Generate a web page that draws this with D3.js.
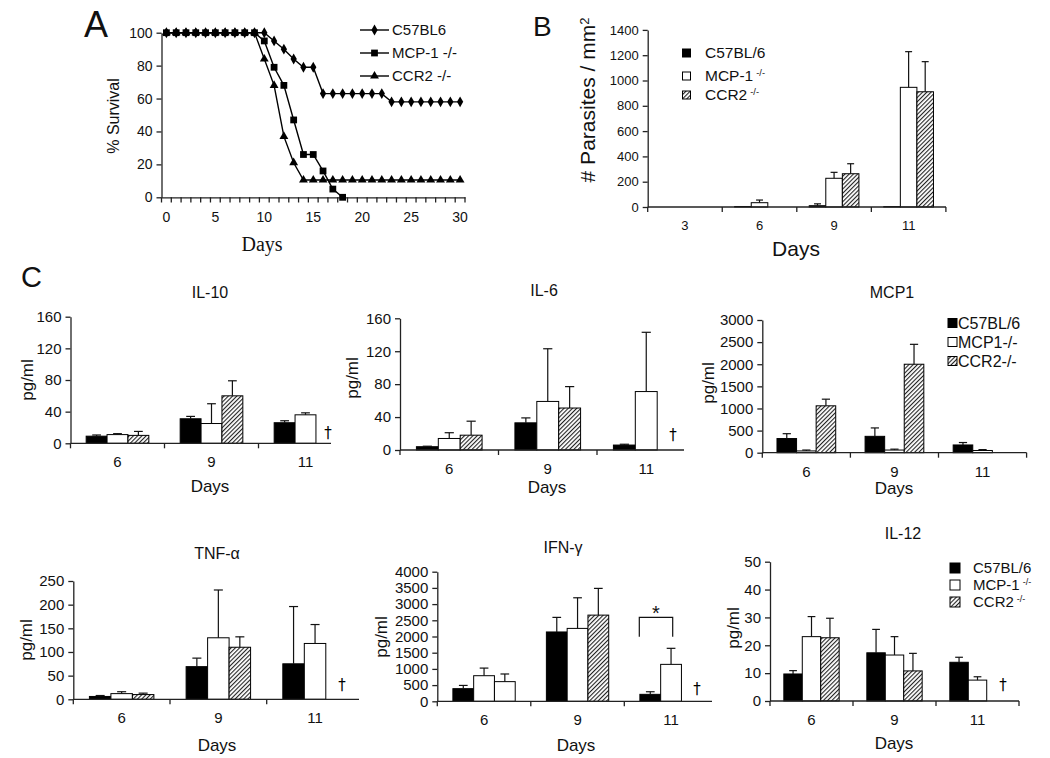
<!DOCTYPE html>
<html><head><meta charset="utf-8">
<script src="https://cdn.jsdelivr.net/npm/d3@7"></script>
<style>
body{margin:0;background:#fff}
svg{display:block}
</style>
</head><body>
<svg id="c" width="1050" height="758" font-family='"Liberation Sans",Arial,sans-serif'></svg>
<script>
// ---------------- DATA ----------------
// Panel A: survival
const survivalDays = [0,1,2,3,4,5,6,7,8,9,10,11,12,13,14,15,16,17,18,19,20,21,22,23,24,25,26,27,28,29,30];
const survivalTickLabels = [0,5,10,15,20,25,30];
const survivalTicksY = [0,20,40,60,80,100];
const survC57  = [100,100,100,100,100,100,100,100,100,100,100,95,90,84,79,79,63,63,63,63,63,63,63,58,58,58,58,58,58,58,58];
const survMCP  = [100,100,100,100,100,100,100,100,100,100,95,79,68,47,26,26,16,5,0,null,null,null,null,null,null,null,null,null,null,null,null];
const survCCR2 = [100,100,100,100,100,100,100,100,100,100,84,68,37,21,10.5,10.5,10.5,10.5,10.5,10.5,10.5,10.5,10.5,10.5,10.5,10.5,10.5,10.5,10.5,10.5,10.5];
const survNames = ["C57BL6","MCP-1 -/-","CCR2 -/-"];

// Panel B: parasites / mm2
const parasiteDays = ["3","6","9","11"];
const parasiteTicks = [0,200,400,600,800,1000,1200,1400];
const parC57   = [0, 4, 10, 3];    const parC57Sd  = [0, 0, 15, 0];
const parMCP   = [0, 34, 227, 946]; const parMCPSd  = [0, 21, 47, 282];
const parCCR2  = [0, 0, 263, 911];  const parCCR2Sd = [0, 0, 79, 238];

// Panel C: cytokines (days 6, 9, 11); null = no survivors (†)
const cytoDays = ["6","9","11"];
const il10C57 = [9, 31, 26];     const il10C57Sd = [1.5, 3, 2.5];
const il10MCP = [11, 25, 36];    const il10MCPSd = [1.2, 25, 2.5];
const il10CCR2 = [10, 60, null]; const il10CCR2Sd = [5, 19, 0];

const il6C57 = [4, 33, 6];       const il6C57Sd = [0.6, 6, 1];
const il6MCP = [14, 59, 71];     const il6MCPSd = [7, 64, 72];
const il6CCR2 = [18, 51, null];  const il6CCR2Sd = [17, 26, 0];

const mcp1C57 = [320, 370, 175];   const mcp1C57Sd = [110, 190, 55];
const mcp1MCP = [40, 60, 50];      const mcp1MCPSd = [20, 20, 20];
const mcp1CCR2 = [1060, 2000, 0];  const mcp1CCR2Sd = [150, 450, 0];

const tnfC57 = [6, 69, 75];      const tnfC57Sd = [2, 18, 121];
const tnfMCP = [12, 130, 118];   const tnfMCPSd = [4, 101, 40];
const tnfCCR2 = [10, 110, null]; const tnfCCR2Sd = [3, 22, 0];

const ifnC57 = [390, 2140, 215];    const ifnC57Sd = [100, 450, 80];
const ifnMCP = [790, 2250, 1140];   const ifnMCPSd = [235, 945, 495];
const ifnCCR2 = [607, 2660, null];  const ifnCCR2Sd = [236, 825, 0];

const il12C57 = [9.7, 17.3, 13.9];   const il12C57Sd = [1.2, 8.4, 1.8];
const il12MCP = [23.1, 16.5, 7.5];   const il12MCPSd = [7.2, 6.6, 1.2];
const il12CCR2 = [22.7, 10.8, null]; const il12CCR2Sd = [7, 6.3, 0];

// ---------------- DRAWING ----------------
const svg = d3.select("#c");
const AX = "#222";
const SANS = '"Liberation Sans",Arial,sans-serif';
const fmt = d3.format("d");
const defs = svg.append("defs");
const pat = defs.append("pattern").attr("id","hatch").attr("patternUnits","userSpaceOnUse")
  .attr("width",3).attr("height",3).attr("patternTransform","rotate(45)");
pat.append("rect").attr("width",3).attr("height",3).attr("fill","#fff");
pat.append("line").attr("x1",0.5).attr("y1",0).attr("x2",0.5).attr("y2",3).attr("stroke","#222").attr("stroke-width",1.2);
const FILLS = ["#000","#fff","url(#hatch)"];

function txt(x,y,s,fs){
  return svg.append("text").attr("x",x).attr("y",y).attr("font-size",fs).attr("fill","#111").text(s);
}
function styleAxis(sel, fs){
  sel.selectAll("path,line").attr("stroke",AX).attr("stroke-width",1.3);
  sel.selectAll("text").attr("font-size",fs).attr("fill","#111").attr("font-family",SANS);
}

// ---- Panel A ----
txt(84,37,"A",36);
const xA = d3.scaleBand().domain(survivalDays).range([161.5,465]);
const yA = d3.scaleLinear().domain([0,100]).range([197.3,32.7]);
const cxA = d => xA(d) + xA.bandwidth()/2;
const gA = svg.append("g");
gA.append("g").attr("transform","translate(161.5,0)")
  .call(d3.axisLeft(yA).tickValues(survivalTicksY).tickFormat(fmt).tickSize(5).tickSizeOuter(0).tickPadding(4))
  .call(s=>styleAxis(s,14));
gA.append("g").attr("transform","translate(0,197.3)")
  .call(d3.axisBottom(xA).tickValues(survivalTickLabels).tickSize(0).tickPadding(14.5))
  .call(s=>styleAxis(s,14));
gA.selectAll("line.dtick").data(survivalDays.concat(["end"])).join("line").attr("class","dtick")
  .attr("x1",d=>d==="end"?465:xA(d)).attr("x2",d=>d==="end"?465:xA(d))
  .attr("y1",197.3).attr("y2",202.5).attr("stroke",AX).attr("stroke-width",1.3);
svg.append("text").attr("transform","translate(113,116) rotate(-90)").attr("text-anchor","middle")
  .attr("dy","0.35em").attr("font-size",16).attr("fill","#111").text("% Survival");
svg.append("text").attr("x",262).attr("y",251).attr("text-anchor","middle").attr("fill","#111")
  .attr("font-family",'"Liberation Serif","Times New Roman",serif').attr("font-size",20).text("Days");
const survSeries = [survC57, survMCP, survCCR2];
const symbols = [d3.symbolDiamond, d3.symbolSquare, d3.symbolTriangle];
const symSizes = [34, 46, 34];
const lineA = d3.line().defined(d=>d.v!=null).x(d=>cxA(d.day)).y(d=>yA(d.v));
survSeries.forEach((vals,si)=>{
  const pts = survivalDays.map((day,i)=>({day, v: vals[i]}));
  gA.append("path").datum(pts).attr("d",lineA).attr("fill","none").attr("stroke","#000").attr("stroke-width",1.4);
  gA.selectAll(null).data(pts.filter(p=>p.v!=null)).join("path")
    .attr("transform",p=>`translate(${cxA(p.day)},${yA(p.v)})`)
    .attr("d",d3.symbol().type(symbols[si]).size(symSizes[si])).attr("fill","#000");
});
const legAy = [30,53,76];
survNames.forEach((nm,i)=>{
  gA.append("line").attr("x1",360).attr("x2",389).attr("y1",legAy[i]).attr("y2",legAy[i]).attr("stroke","#000").attr("stroke-width",1.4);
  gA.append("path").attr("transform",`translate(374.5,${legAy[i]})`).attr("d",d3.symbol().type(symbols[i]).size(symSizes[i])).attr("fill","#000");
  gA.append("text").attr("x",392).attr("y",legAy[i]).attr("dy","0.35em").attr("font-size",15).attr("fill","#111").text(nm);
});

// ---- generic grouped bar panel ----
function barPanel(cfg){
  const g = svg.append("g");
  const n = cfg.cats.length;
  const x = d3.scaleBand().domain(cfg.cats).range([cfg.left, cfg.left + cfg.step*n]);
  const y = d3.scaleLinear().domain([0,cfg.max]).range([cfg.y0, cfg.yTop]);
  const bw = cfg.step/4.5;
  const xs = d3.scaleBand().domain([0,1,2]).range([0,bw*3]);
  const flat = [];
  cfg.series.forEach((s,si)=>s.v.forEach((v,ci)=>{ if(v!=null) flat.push({si,ci,v,sd:s.sd[ci]}); }));
  const bx = d => x(cfg.cats[d.ci]) + (cfg.step - bw*3)/2 + xs(d.si);
  g.selectAll("rect.bar").data(flat).join("rect").attr("class","bar")
    .attr("x",bx).attr("width",bw).attr("y",d=>y(d.v)).attr("height",d=>cfg.y0-y(d.v))
    .attr("fill",d=> (cfg.plain && cfg.plain.some(p=>p[0]===d.si&&p[1]===d.ci)) ? "#fff" : FILLS[d.si])
    .attr("stroke","#000").attr("stroke-width",1);
  const eb = flat.filter(d=>d.sd>0);
  const cap = bw*0.42;
  g.selectAll("line.ev").data(eb).join("line").attr("class","ev")
    .attr("x1",d=>bx(d)+bw/2).attr("x2",d=>bx(d)+bw/2).attr("y1",d=>y(d.v)).attr("y2",d=>y(d.v+d.sd))
    .attr("stroke","#111").attr("stroke-width",1.2);
  g.selectAll("line.ec").data(eb).join("line").attr("class","ec")
    .attr("x1",d=>bx(d)+bw/2-cap/2).attr("x2",d=>bx(d)+bw/2+cap/2).attr("y1",d=>y(d.v+d.sd)).attr("y2",d=>y(d.v+d.sd))
    .attr("stroke","#111").attr("stroke-width",1.2);
  // axes
  g.append("g").attr("transform",`translate(${cfg.left},0)`)
    .call(d3.axisLeft(y).tickValues(cfg.yTicks).tickFormat(fmt).tickSize(5).tickSizeOuter(0).tickPadding(cfg.ypad||4))
    .call(s=>styleAxis(s,cfg.fs));
  const xa = g.append("g").attr("transform",`translate(0,${cfg.y0})`)
    .call(d3.axisBottom(x).tickSize(0).tickPadding(cfg.xpad||13.5))
    .call(s=>styleAxis(s,cfg.fs));
  xa.select(".domain").remove();
  g.append("line").attr("x1",cfg.left).attr("x2",cfg.axisEnd).attr("y1",cfg.y0).attr("y2",cfg.y0).attr("stroke",AX).attr("stroke-width",1.3);
  const bounds = d3.range(n+1).map(i=>cfg.left+i*cfg.step).filter(b=>b<=cfg.axisEnd+1);
  g.selectAll("line.bt").data(bounds).join("line").attr("class","bt")
    .attr("x1",b=>b).attr("x2",b=>b).attr("y1",cfg.y0).attr("y2",cfg.y0+5).attr("stroke",AX).attr("stroke-width",1.3);
  if(cfg.title) g.append("text").attr("x",cfg.title[0]).attr("y",cfg.title[1]).attr("dy","0.35em").attr("text-anchor","middle").attr("font-size",16).attr("fill","#111").text(cfg.title[2]);
  if(cfg.days) g.append("text").attr("x",cfg.days[0]).attr("y",cfg.days[1]).attr("dy","0.35em").attr("text-anchor","middle").attr("font-size",cfg.daysFs||17).attr("fill","#111").text("Days");
  if(cfg.ylab) g.append("text").attr("transform",`translate(${cfg.ylab[0]},${cfg.ylab[1]}) rotate(-90)`).attr("dy","0.35em").attr("text-anchor","middle").attr("font-size",17).attr("fill","#111").text("pg/ml");
  if(cfg.dagger) g.append("text").attr("x",cfg.dagger[0]).attr("y",cfg.dagger[1]).attr("text-anchor","middle")
    .attr("font-family",'"DejaVu Sans",sans-serif').attr("font-size",15).attr("fill","#000").text("\u2020");
  return {g,x,y};
}

function legend(cfg){
  const g = svg.append("g");
  cfg.labels.forEach((lb,i)=>{
    const yy = cfg.ys[i];
    g.append("rect").attr("x",cfg.x).attr("y",yy-cfg.size/2).attr("width",cfg.size).attr("height",cfg.size)
      .attr("fill",FILLS[i]).attr("stroke","#000").attr("stroke-width",1);
    const t = g.append("text").attr("x",cfg.tx).attr("y",yy).attr("dy","0.35em").attr("font-size",cfg.fs).attr("fill","#111");
    t.append("tspan").text(lb[0]);
    if(lb[1]) t.append("tspan").attr("dy","-0.55em").attr("dx","3").attr("font-size",cfg.fs*0.6).text(lb[1]);
  });
}

// ---- Panel B ----
txt(533,36,"B",28);
barPanel({cats:parasiteDays, left:647.7, step:74.55, axisEnd:946, y0:207, yTop:29.9, max:1400,
  yTicks:parasiteTicks, fs:13, ypad:4, xpad:14,
  series:[{v:parC57,sd:parC57Sd},{v:parMCP,sd:parMCPSd},{v:parCCR2,sd:parCCR2Sd}],
  days:[796,249], daysFs:21});
const bl = svg.append("text").attr("transform","translate(588,100) rotate(-90)").attr("dy","0.35em").attr("text-anchor","middle").attr("font-size",21).attr("fill","#111");
bl.append("tspan").text("# Parasites / mm");
bl.append("tspan").attr("dy","-0.5em").attr("font-size",13).text("2");
legend({x:682.5, size:8, tx:705, fs:15.5, ys:[53,76,95], labels:[["C57BL/6"],["MCP-1","-/-"],["CCR2","-/-"]]});

// ---- Panel C ----
txt(21,287,"C",29);
barPanel({cats:cytoDays, left:70.5, step:94, axisEnd:331, y0:443.3, yTop:316.7, max:160, yTicks:[0,40,80,120,160], fs:15,
  series:[{v:il10C57,sd:il10C57Sd},{v:il10MCP,sd:il10MCPSd},{v:il10CCR2,sd:il10CCR2Sd}],
  title:[210,292,"IL-10"], days:[210,486], ylab:[27,380], dagger:[328,438]});
barPanel({cats:cytoDays, left:400, step:98.5, axisEnd:684, y0:450, yTop:318.3, max:160, yTicks:[0,40,80,120,160], fs:15,
  series:[{v:il6C57,sd:il6C57Sd},{v:il6MCP,sd:il6MCPSd},{v:il6CCR2,sd:il6CCR2Sd}],
  title:[544,290,"IL-6"], days:[547,487], ylab:[352,378], dagger:[673,440]});
barPanel({cats:cytoDays, left:762.3, step:88.1, axisEnd:1026.6, y0:452.7, yTop:320, max:3000, yTicks:[0,500,1000,1500,2000,2500,3000], fs:15,
  series:[{v:mcp1C57,sd:mcp1C57Sd},{v:mcp1MCP,sd:mcp1MCPSd},{v:mcp1CCR2,sd:mcp1CCR2Sd}],
  title:[892,292,"MCP1"], days:[894,488], ylab:[708,383]});
legend({x:948, size:9, tx:958, fs:16, ys:[323,342,361], labels:[["C57BL/6"],["MCP1-/-"],["CCR2-/-"]]});

barPanel({cats:cytoDays, left:73.3, step:96.7, axisEnd:359, y0:699.3, yTop:581, max:250, yTicks:[0,50,100,150,200,250], fs:15,
  series:[{v:tnfC57,sd:tnfC57Sd},{v:tnfMCP,sd:tnfMCPSd},{v:tnfCCR2,sd:tnfCCR2Sd}],
  title:[217,553,"TNF-α"], days:[217,745], ylab:[26,640], dagger:[342,690]});
barPanel({cats:cytoDays, left:437.3, step:93.5, axisEnd:712, y0:701.3, yTop:571.7, max:4000, yTicks:[0,500,1000,1500,2000,2500,3000,3500,4000], fs:15,
  series:[{v:ifnC57,sd:ifnC57Sd},{v:ifnMCP,sd:ifnMCPSd},{v:ifnCCR2,sd:ifnCCR2Sd}], plain:[[2,0]],
  title:[563,547,"IFN-γ"], days:[576,745], ylab:[381,637], dagger:[697,694]});
// significance bracket on day 11 (C57 vs MCP-1)
svg.append("path").attr("d","M639.3,636.7V617.3H672.7V636.7").attr("fill","none").attr("stroke","#111").attr("stroke-width",1.2);
txt(656,620,"*",20).attr("text-anchor","middle");
barPanel({cats:cytoDays, left:770, step:83, axisEnd:1019, y0:701, yTop:561.7, max:50, yTicks:[0,10,20,30,40,50], fs:15,
  series:[{v:il12C57,sd:il12C57Sd},{v:il12MCP,sd:il12MCPSd},{v:il12CCR2,sd:il12CCR2Sd}],
  title:[903,533,"IL-12"], days:[894,743], ylab:[733,628], dagger:[1003,690]});
legend({x:950, size:10, tx:973, fs:15, ys:[568,585,602], labels:[["C57BL/6"],["MCP-1","-/-"],["CCR2","-/-"]]});
</script>
</body></html>
